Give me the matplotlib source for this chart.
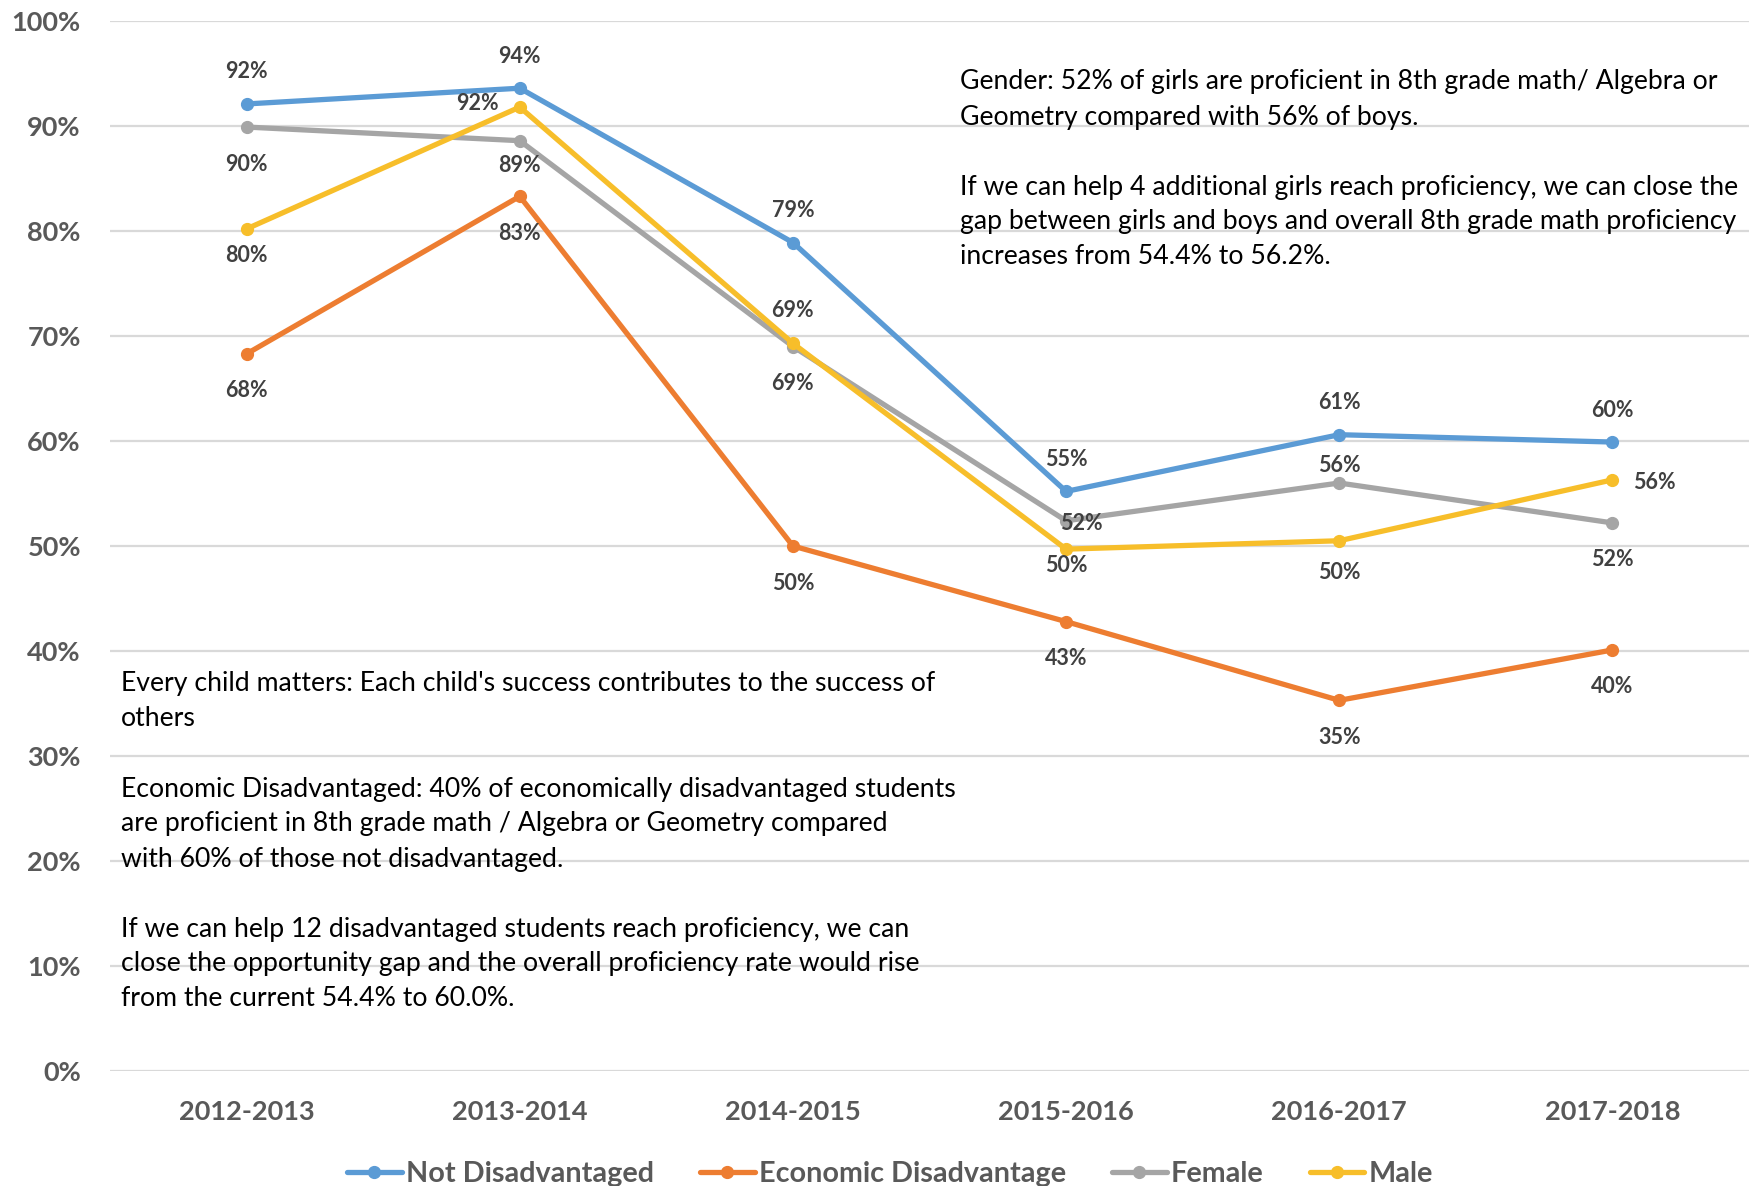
import matplotlib
matplotlib.use('Agg')
import matplotlib.pyplot as plt

plt.rcParams['font.family'] = ['Lato', 'DejaVu Sans']

# data
years = ['2012-2013', '2013-2014', '2014-2015', '2015-2016', '2016-2017', '2017-2018']
not_disadvantaged = [0.921, 0.936, 0.789, 0.552, 0.606, 0.599]
economic_disadvantage = [0.683, 0.833, 0.500, 0.428, 0.353, 0.401]
female = [0.899, 0.886, 0.690, 0.524, 0.560, 0.522]
male = [0.802, 0.918, 0.693, 0.497, 0.505, 0.563]

gender_note = [
    "Gender: 52% of girls are proficient in 8th grade math/ Algebra or",
    "Geometry compared with 56% of boys.",
    "",
    "If we can help 4 additional girls reach proficiency, we can close the",
    "gap between girls and boys and overall 8th grade math proficiency",
    "increases from 54.4% to 56.2%.",
]
econ_note = [
    "Every child matters: Each child's success contributes to the success of",
    "others",
    "",
    "Economic Disadvantaged: 40% of economically disadvantaged students",
    "are proficient in 8th grade math / Algebra or Geometry compared",
    "with 60% of those not disadvantaged.",
    "",
    "If we can help 12 disadvantaged students reach proficiency, we can",
    "close the opportunity gap and the overall proficiency rate would rise",
    "from the current 54.4% to 60.0%.",
]

W, H = 1752, 1186
fig = plt.figure(figsize=(W / 100, H / 100), dpi=100)
ax = fig.add_axes([110 / W, 1 - 1071 / H, 1639 / W, 1050 / H])

series = [
    ('Not Disadvantaged', not_disadvantaged, '#5B9BD5'),
    ('Economic Disadvantage', economic_disadvantage, '#ED7D31'),
    ('Female', female, '#A5A5A5'),
    ('Male', male, '#F7BE2A'),
]

# label offsets in pixels (dx, dy) for each point
offsets = {
    'Not Disadvantaged': [(0, 32)] * 6,
    'Economic Disadvantage': [(0, -37)] * 6,
    'Female': [(0, -37), (0, -25), (0, -37), (15, -3), (0, 17), (0, -37)],
    'Male': [(0, -27), (-42, 4), (0, 33), (0, -16), (0, -32), (42, -3)],
}

x = list(range(len(years)))
for name, vals, col in series:
    ax.plot(x, vals, color=col, lw=3.8, marker='o', ms=8.5, label=name,
            solid_capstyle='round', zorder=3)
    for i, v in enumerate(vals):
        dx, dy = offsets[name][i]
        ax.annotate(f"{round(v * 100):.0f}%", (i, v), xytext=(dx, dy),
                    textcoords='offset pixels', ha='center', va='center',
                    fontsize=15.5, fontweight='bold', color='#404040', zorder=4)

ax.set_xlim(-0.5, 5.5)
ax.set_ylim(0, 1.0)
ax.set_yticks([i / 10 for i in range(11)])
ax.set_yticklabels([f"{i * 10}%" for i in range(11)])
ax.set_xticks(x)
ax.set_xticklabels(years)
ax.yaxis.grid(True, color='#D9D9D9', lw=1.6)
ax.set_axisbelow(True)
for s in ax.spines.values():
    s.set_visible(False)
ax.tick_params(axis='y', length=0, pad=21, labelsize=19.5, labelcolor='#595959')
ax.tick_params(axis='x', length=0, pad=21, labelsize=19.5, labelcolor='#595959')
for t in ax.get_xticklabels() + ax.get_yticklabels():
    t.set_fontweight('bold')

# annotation text blocks
for i, line in enumerate(gender_note):
    fig.text(960 / W, 1 - (82 + 35 * i) / H, line, ha='left', va='center',
             fontsize=19.2, color='black')
for i, line in enumerate(econ_note):
    fig.text(121 / W, 1 - (684 + 35 * i) / H, line, ha='left', va='center',
             fontsize=19.2, color='black')

leg = fig.legend(loc='center', bbox_to_anchor=(890 / W, 1 - 1174 / H), ncol=4,
                 frameon=False, fontsize=20.7, handlelength=1.9, handletextpad=0.15,
                 columnspacing=1.6)
for t in leg.get_texts():
    t.set_color('#595959')
    t.set_fontweight('bold')

fig.savefig('out.png', dpi=100)
